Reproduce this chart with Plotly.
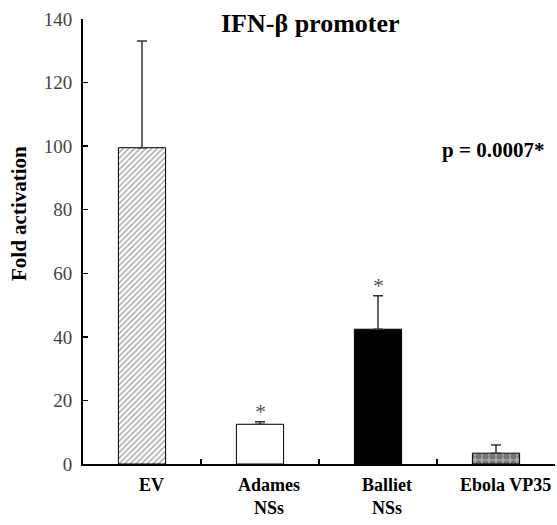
import plotly.graph_objects as go

categories = ["EV", "Adames NSs", "Balliet NSs", "Ebola VP35"]
label_text = ["<b>EV</b>", "<b>Adames<br>NSs</b>", "<b>Balliet<br>NSs</b>", "<b>Ebola VP35</b>"]
values = [99.5, 12.5, 42.4, 3.4]
err_upper = [33.6, 0.8, 10.5, 2.6]
significant = [False, True, True, False]
y_ticks = [0, 20, 40, 60, 80, 100, 120, 140]

SERIF = "Liberation Serif, Times New Roman, serif"

fig = go.Figure()

fig.add_trace(go.Bar(
    x=categories,
    y=values,
    width=0.4,
    marker=dict(
        color=["white", "white", "black", "#a6a6a6"],
        line=dict(color="black", width=1),
        pattern=dict(
            shape=["/", "", "", "."],
            fgcolor=["#8a8a8a", "white", "black", "#d8d8d8"],
            bgcolor=["white", "white", "black", "#a0a0a0"],
            size=[4, 8, 8, 7],
            solidity=[0.35, 0.3, 0.3, 0.55],
            fillmode="overlay",
        ),
    ),
    error_y=dict(
        type="data",
        symmetric=False,
        array=err_upper,
        arrayminus=[0] * len(values),
        color="#333333",
        thickness=1.5,
        width=5,
    ),
    hoverinfo="skip",
    showlegend=False,
))

for cat, v, e, s in zip(categories, values, err_upper, significant):
    if s:
        fig.add_annotation(x=cat, y=v + e, text="*", showarrow=False,
                           xref="x", yref="y", yanchor="bottom", yshift=-4,
                           font=dict(family=SERIF, size=22, color="#555555"))

for cat, lab in zip(categories, label_text):
    fig.add_annotation(x=cat, y=-0.02, text=lab, showarrow=False,
                       xref="x", yref="paper", xanchor="center", yanchor="top",
                       xshift=9, align="center",
                       font=dict(family=SERIF, size=18, color="black"))

fig.add_annotation(text="<b>IFN-β promoter</b>", xref="paper", yref="paper",
                   x=0.481, y=0.991, xanchor="center", yanchor="middle",
                   showarrow=False, font=dict(family=SERIF, size=26, color="black"))

fig.add_annotation(text="<b>p = 0.0007*</b>", xref="paper", yref="y",
                   x=0.981, y=98.7, xanchor="right", yanchor="middle",
                   showarrow=False, font=dict(family=SERIF, size=21, color="black"))

fig.add_annotation(text="<b>Fold activation</b>", xref="paper", yref="paper",
                   x=-0.1356, y=0.564, xanchor="center", yanchor="middle",
                   textangle=-90, showarrow=False,
                   font=dict(family=SERIF, size=21, color="black"))

fig.update_layout(
    width=557, height=525,
    margin=dict(l=83, r=2, t=19, b=61, autoexpand=False),
    paper_bgcolor="white", plot_bgcolor="white",
    bargap=0.6,
)

fig.update_xaxes(
    type="category",
    tickmode="array", tickvals=categories,
    tickson="boundaries", showticklabels=False,
    ticks="inside", ticklen=5, tickwidth=1.5, tickcolor="black",
    showline=True, linecolor="black", linewidth=2,
    showgrid=False, zeroline=False, automargin=False,
)

fig.update_yaxes(
    range=[0, 140],
    tickmode="array", tickvals=y_ticks,
    ticks="inside", ticklen=5, tickwidth=1.5, tickcolor="black",
    showline=True, linecolor="black", linewidth=2,
    showgrid=False, zeroline=False, automargin=False,
    tickfont=dict(family=SERIF, size=19, color="#444444"),
    ticklabelstandoff=5,
)

fig.write_html("out.html", config={"staticPlot": True, "displayModeBar": False},
               post_script="document.body.style.margin='0';")
